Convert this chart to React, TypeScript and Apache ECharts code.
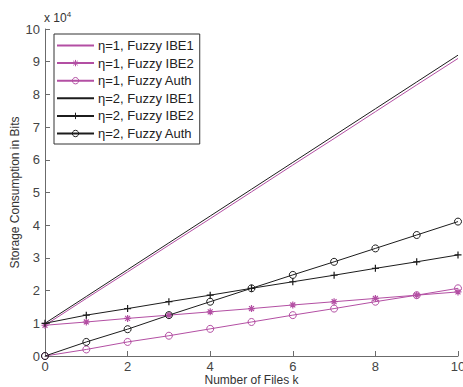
import React, { useEffect, useRef } from "react";
import * as echarts from "echarts";

const files = [0, 1, 2, 3, 4, 5, 6, 7, 8, 9, 10];
const ibe1Eta1 = [9400, 17600, 25700, 33900, 42000, 50200, 58400, 66500, 74700, 82900, 91000];
const ibe2Eta1 = [9400, 10400, 11500, 12500, 13500, 14500, 15600, 16600, 17600, 18600, 19600];
const authEta1 = [0, 2000, 4300, 6200, 8300, 10400, 12500, 14500, 16600, 18600, 20700];
const ibe1Eta2 = [10000, 18200, 26400, 34600, 42800, 51000, 59200, 67400, 75600, 83800, 92000];
const ibe2Eta2 = [10000, 12500, 14500, 16600, 18600, 20700, 22700, 24700, 26800, 28800, 30900];
const authEta2 = [0, 4300, 8200, 12500, 16600, 20700, 24800, 28800, 32900, 37000, 41100];
const seriesNames = [
  "η=1, Fuzzy IBE1",
  "η=1, Fuzzy IBE2",
  "η=1, Fuzzy Auth",
  "η=2, Fuzzy IBE1",
  "η=2, Fuzzy IBE2",
  "η=2, Fuzzy Auth",
];

const PINK = "#b34fa3";
const BLACK = "#1c1c1c";
const AXIS = "#6b6b6b";
const FONT = "Liberation Sans, Arial, sans-serif";

const PLUS = "path://M5,0L5,10M0,5L10,5";
const STAR = "path://M5,0L5,10M0,5L10,5M1.5,1.5L8.5,8.5M1.5,8.5L8.5,1.5";

function pairs(vals: number[]) {
  return files.map((x, i) => [x, vals[i]]);
}

function mk(name: string, vals: number[], color: string, marker: string | null) {
  const s: any = {
    name,
    type: "line",
    data: pairs(vals),
    lineStyle: { color, width: 1 },
    color,
    emphasis: { disabled: true },
  };
  if (marker === null) {
    s.symbol = "none";
    s.showSymbol = false;
  } else if (marker === "o") {
    s.symbol = "circle";
    s.symbolSize = 7;
    s.itemStyle = { color: "rgba(255,255,255,0)", borderColor: color, borderWidth: 1 };
  } else {
    s.symbol = marker === "+" ? PLUS : STAR;
    s.symbolSize = 7;
    s.symbolKeepAspect = true;
    s.itemStyle = { color: "rgba(255,255,255,0)", borderColor: color, borderWidth: 1.2 };
  }
  return s;
}

const legendData = seriesNames.map((n, i) =>
  i === 0 || i === 3
    ? { name: n, itemStyle: { color: "rgba(0,0,0,0)", borderColor: "rgba(0,0,0,0)", borderWidth: 0 } }
    : { name: n, itemStyle: { borderWidth: 1 } }
);

export default function App() {
  const ref = useRef<HTMLDivElement>(null);
  useEffect(() => {
    if (!ref.current) return;
    const chart = echarts.init(ref.current, undefined, { renderer: "svg" });
    chart.setOption({
      animation: false,
      backgroundColor: "#ffffff",
      grid: { left: 45, right: 5, top: 29, bottom: 31, containLabel: false, outerBoundsMode: "none" },
      legend: {
        data: legendData,
        orient: "vertical",
        left: 54,
        top: 34,
        itemWidth: 37,
        itemHeight: 8,
        itemGap: 4.6,
        padding: [5, 6, 4, 2],
        borderColor: "#333",
        borderWidth: 1,
        backgroundColor: "#fff",
        selectedMode: false,
        textStyle: { fontFamily: FONT, fontSize: 13, color: "#222", padding: [0, 0, 0, -1] },
      },
      xAxis: {
        type: "value",
        min: 0,
        max: 10,
        interval: 2,
        name: "Number of Files k",
        nameLocation: "middle",
        nameMoveOverlap: false,
        nameGap: 18,
        nameTextStyle: { fontFamily: FONT, fontSize: 12, color: "#333", verticalAlign: "top" },
        axisLine: { lineStyle: { color: AXIS } },
        axisTick: { inside: true, length: 5, lineStyle: { color: AXIS } },
        axisLabel: { fontFamily: FONT, fontSize: 13, color: "#444", margin: 4 },
        splitLine: { show: false },
      },
      yAxis: {
        type: "value",
        min: 0,
        max: 100000,
        interval: 10000,
        name: "Storage Consumption in Bits",
        nameLocation: "middle",
        nameMoveOverlap: false,
        nameGap: 24,
        nameTextStyle: { fontFamily: FONT, fontSize: 12, color: "#333" },
        axisLine: { show: true, lineStyle: { color: AXIS } },
        axisTick: { show: true, inside: true, length: 5, lineStyle: { color: AXIS } },
        axisLabel: {
          fontFamily: FONT,
          fontSize: 13,
          color: "#444",
          margin: 5,
          formatter: (v: number) => String(v / 10000),
        },
        splitLine: { show: false },
      },
      graphic: [
        {
          type: "text",
          left: 44,
          top: 10,
          style: {
            text: "x 10{s|4}",
            font: "12px " + FONT,
            fill: "#333",
            rich: { s: { fontSize: 8, verticalAlign: "top", padding: [0, 0, 8, 0], fill: "#333" } },
          },
        },
      ],
      series: [
        mk(seriesNames[0], ibe1Eta1, PINK, null),
        mk(seriesNames[1], ibe2Eta1, PINK, "*"),
        mk(seriesNames[2], authEta1, PINK, "o"),
        mk(seriesNames[3], ibe1Eta2, BLACK, null),
        mk(seriesNames[4], ibe2Eta2, BLACK, "+"),
        mk(seriesNames[5], authEta2, BLACK, "o"),
      ],
    });
    return () => chart.dispose();
  }, []);
  return (
    <div
      ref={ref}
      style={{ position: "fixed", left: 0, top: 0, width: 463, height: 387 }}
    />
  );
}
